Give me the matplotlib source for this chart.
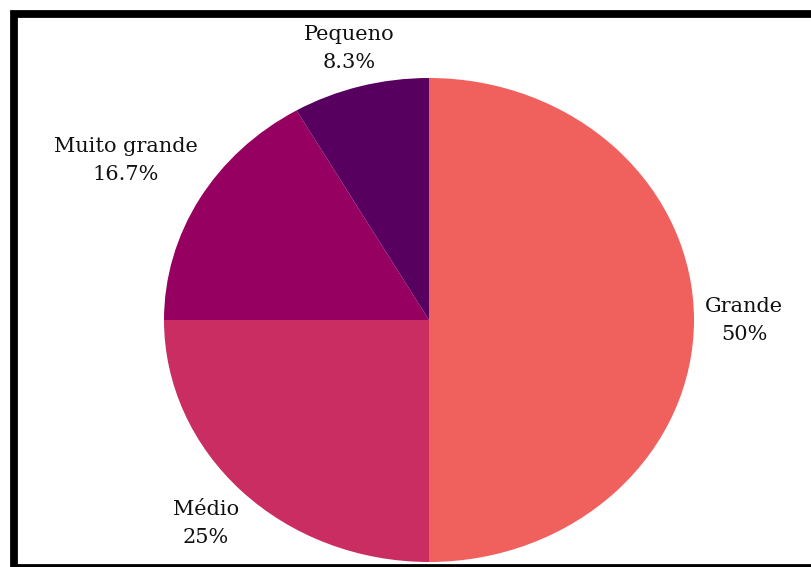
import matplotlib.pyplot as plt
import numpy as np
from matplotlib.patches import Rectangle

categories = ['Grande', 'Médio', 'Muito grande', 'Pequeno']
counts = [6, 3, 2, 1]
pct_labels = ['50%', '25%', '16.7%', '8.3%']
colors = ['#F0605D', '#C92D61', '#960060', '#570060']
label_dist = [1.19, 1.19, 1.32, 1.16]

fig = plt.figure(figsize=(8.11, 5.67), dpi=100)
ax = fig.add_axes([164/811, 5/567, 530/811, 484/567])

wedges, _ = ax.pie(counts, colors=colors, startangle=90, counterclock=False,
                   wedgeprops={'linewidth': 0})
ax.set_aspect('auto')
ax.set_xlim(-1, 1)
ax.set_ylim(-1, 1)

font = {'family': 'DejaVu Serif', 'size': 15, 'color': '#111111'}
for w, name, pct, d in zip(wedges, categories, pct_labels, label_dist):
    ang = np.deg2rad((w.theta1 + w.theta2) / 2)
    x = d * np.cos(ang)
    y = d * np.sin(ang)
    ax.text(x, y, name + '\n' + pct, ha='center', va='center',
            linespacing=1.6, fontdict=font, clip_on=False)

# black frame
fig.patches.append(Rectangle((13.5/811, -0.5/567), 1.0, (553.5)/567,
                             transform=fig.transFigure, fill=False,
                             edgecolor='black', linewidth=5.6))

fig.savefig('out.png', dpi=100)
